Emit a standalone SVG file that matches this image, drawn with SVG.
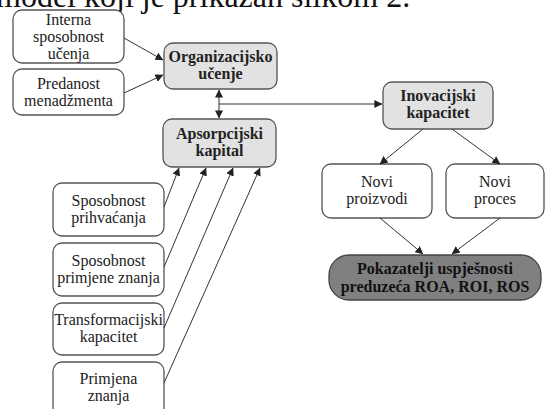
<svg xmlns="http://www.w3.org/2000/svg" width="546" height="409" viewBox="0 0 546 409" font-family="'Liberation Serif', 'DejaVu Serif', serif">
<defs>
<marker id="ah" viewBox="0 0 10 10" refX="9.5" refY="5" markerWidth="8" markerHeight="8" markerUnits="userSpaceOnUse" orient="auto-start-reverse">
<path d="M0,0 L10,5 L0,10 z" fill="#222"/>
</marker>
<style>
.b{fill:#fff;stroke:#555;stroke-width:1.3}
.g{fill:#e2e2e2;stroke:#555;stroke-width:1.3}
.d{fill:#808080;stroke:#444;stroke-width:1.3}
.t{font-family:'Liberation Serif','DejaVu Serif',serif;font-size:16px;fill:#222;text-anchor:middle}
.bt{font-weight:bold}
.c{stroke:#333;stroke-width:1;fill:none;marker-end:url(#ah)}
</style>
</defs>
<rect width="546" height="409" fill="#fff"/>
<text x="-4" y="7" font-family="'Liberation Serif', serif" font-size="32" fill="#111">model koji je prikazan slikom 2.</text>

<g id="interna" class="t"><rect class="b" x="13" y="10" width="111" height="53" rx="9"/>
<text x="68.5" y="25">Interna</text><text x="68.5" y="42">sposobnost</text><text x="68.5" y="59">učenja</text></g>
<g id="predanost" class="t"><rect class="b" x="13" y="69" width="111" height="46" rx="9"/>
<text x="68.5" y="89">Predanost</text><text x="68.5" y="106">menadžmenta</text></g>
<g id="organizacijsko" class="t bt"><rect class="g" x="164" y="43" width="113" height="46" rx="9"/>
<text x="220.5" y="62">Organizacijsko</text><text x="220.5" y="79">učenje</text></g>
<g id="apsorpcijski" class="t bt"><rect class="g" x="163" y="119" width="113" height="48" rx="9"/>
<text x="219.5" y="139">Apsorpcijski</text><text x="219.5" y="156">kapital</text></g>
<g id="inovacijski" class="t bt"><rect class="g" x="383" y="82" width="110" height="47" rx="9"/>
<text x="438" y="101">Inovacijski</text><text x="438" y="118">kapacitet</text></g>
<g id="proizvodi" class="t"><rect class="b" x="322" y="164" width="110" height="54" rx="9"/>
<text x="377" y="187">Novi</text><text x="377" y="204">proizvodi</text></g>
<g id="proces" class="t"><rect class="b" x="446" y="164" width="98" height="54" rx="9"/>
<text x="495" y="187">Novi</text><text x="495" y="204">proces</text></g>
<g id="pokazatelji" class="t bt"><rect class="d" x="329" y="255" width="212" height="45" rx="20"/>
<text x="435" y="274" fill="#111">Pokazatelji uspješnosti</text><text x="435" y="292" fill="#111">preduzeća ROA, ROI, ROS</text></g>
<g id="prihvacanja" class="t"><rect class="b" x="53" y="183" width="111" height="53" rx="9"/>
<text x="108.5" y="206">Sposobnost</text><text x="108.5" y="223">prihvaćanja</text></g>
<g id="primjene" class="t"><rect class="b" x="53" y="243" width="111" height="53" rx="9"/>
<text x="108.5" y="266">Sposobnost</text><text x="108.5" y="283">primjene znanja</text></g>
<g id="transformacijski" class="t"><rect class="b" x="53" y="303" width="111" height="52" rx="9"/>
<text x="108.5" y="325">Transformacijski</text><text x="108.5" y="342">kapacitet</text></g>
<g id="primjena" class="t"><rect class="b" x="53" y="362" width="111" height="54" rx="9"/>
<text x="108.5" y="384">Primjena</text><text x="108.5" y="401">znanja</text></g>

<g id="connectors">
<line class="c" x1="124" y1="38" x2="163" y2="60"/>
<line class="c" x1="124" y1="93" x2="163" y2="75"/>
<line class="c" x1="219" y1="90" x2="219" y2="118" style="marker-start:url(#ah)"/>
<path class="c" d="M219,104 H382"/>
<line class="c" x1="423" y1="129" x2="380" y2="164"/>
<line class="c" x1="452" y1="129" x2="500" y2="164"/>
<line class="c" x1="380" y1="218" x2="423" y2="254"/>
<line class="c" x1="500" y1="218" x2="452" y2="254"/>
<line class="c" x1="164" y1="207" x2="179" y2="168"/>
<line class="c" x1="164" y1="267" x2="206" y2="168"/>
<line class="c" x1="164" y1="328" x2="233" y2="168"/>
<line class="c" x1="164" y1="383" x2="260" y2="168"/>
</g>
</svg>
